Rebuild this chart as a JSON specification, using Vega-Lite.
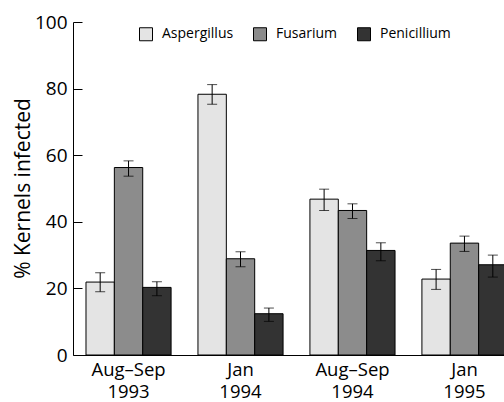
{
  "$schema": "https://vega.github.io/schema/vega-lite/v6.json",
  "autosize": {"type": "none"},
  "padding": {"left": 73, "top": 22, "right": 0, "bottom": 47},
  "width": 447,
  "height": 333,
  "background": "white",
  "config": {
    "font": "Open Sans",
    "view": {"stroke": null},
    "axis": {"domainColor": "black", "tickColor": "black", "labelColor": "black", "titleColor": "black", "grid": false}
  },
  "data": {
    "values": [
      {"period": "Aug–Sep 1993", "species": "Aspergillus", "value": 21.9, "lo": 19.0, "hi": 24.7},
      {"period": "Aug–Sep 1993", "species": "Fusarium", "value": 56.3, "lo": 53.7, "hi": 58.3},
      {"period": "Aug–Sep 1993", "species": "Penicillium", "value": 20.3, "lo": 17.8, "hi": 22.0},
      {"period": "Jan 1994", "species": "Aspergillus", "value": 78.3, "lo": 75.3, "hi": 81.2},
      {"period": "Jan 1994", "species": "Fusarium", "value": 28.9, "lo": 26.5, "hi": 31.0},
      {"period": "Jan 1994", "species": "Penicillium", "value": 12.4, "lo": 10.1, "hi": 14.1},
      {"period": "Aug–Sep 1994", "species": "Aspergillus", "value": 46.8, "lo": 43.4, "hi": 49.8},
      {"period": "Aug–Sep 1994", "species": "Fusarium", "value": 43.4, "lo": 41.0, "hi": 45.4},
      {"period": "Aug–Sep 1994", "species": "Penicillium", "value": 31.4, "lo": 28.3, "hi": 33.7},
      {"period": "Jan 1995", "species": "Aspergillus", "value": 22.8, "lo": 19.7, "hi": 25.7},
      {"period": "Jan 1995", "species": "Fusarium", "value": 33.6, "lo": 31.1, "hi": 35.7},
      {"period": "Jan 1995", "species": "Penicillium", "value": 27.1, "lo": 23.4, "hi": 30.0}
    ]
  },
  "encoding": {
    "x": {
      "field": "period", "type": "nominal", "sort": null,
      "scale": {"paddingInner": 0.24, "paddingOuter": 0.116},
      "axis": {
        "title": null, "labelAngle": 0, "ticks": false, "labelPadding": 5,
        "labelExpr": "split(datum.label, ' ')", "labelFontSize": 18.5, "labelLineHeight": 22,
        "labelBaseline": "top", "domainWidth": 1
      }
    },
    "xOffset": {"field": "species", "type": "nominal", "sort": null, "scale": {"paddingInner": 0, "paddingOuter": 0}}
  },
  "layer": [
    {
      "mark": {"type": "bar", "stroke": "black", "strokeWidth": 1},
      "encoding": {
        "y": {
          "field": "value", "type": "quantitative",
          "scale": {"domain": [0, 100], "nice": false},
          "axis": {
            "title": "% Kernels infected", "titleFontSize": 21, "titleFontWeight": "normal",
            "titleX": -50, "titleY": 166, "titleAngle": -90, "titleAlign": "center", "titleBaseline": "middle",
            "values": [0, 20, 40, 60, 80, 100], "tickSize": -9, "labelPadding": 15, "labelFontSize": 19,
            "domainWidth": 1
          }
        },
        "fill": {
          "field": "species", "type": "nominal", "sort": null,
          "scale": {"domain": ["Aspergillus", "Fusarium", "Penicillium"], "range": ["#e4e4e4", "#8c8c8c", "#333333"]},
          "legend": {
            "title": null, "orient": "none", "direction": "horizontal", "legendX": 66, "legendY": 5,
            "symbolType": "square", "symbolSize": 169, "symbolStrokeColor": "black", "symbolStrokeWidth": 1,
            "symbolOpacity": 1, "labelFontSize": 14, "labelColor": "black", "labelOffset": 9, "columnPadding": 17
          }
        }
      }
    },
    {
      "mark": {"type": "rule", "color": "black", "strokeWidth": 1},
      "encoding": {"y": {"field": "lo", "type": "quantitative"}, "y2": {"field": "hi"}}
    },
    {
      "mark": {"type": "tick", "color": "black", "size": 10, "thickness": 1, "orient": "horizontal"},
      "encoding": {"y": {"field": "lo", "type": "quantitative"}}
    },
    {
      "mark": {"type": "tick", "color": "black", "size": 10, "thickness": 1, "orient": "horizontal"},
      "encoding": {"y": {"field": "hi", "type": "quantitative"}}
    }
  ]
}
